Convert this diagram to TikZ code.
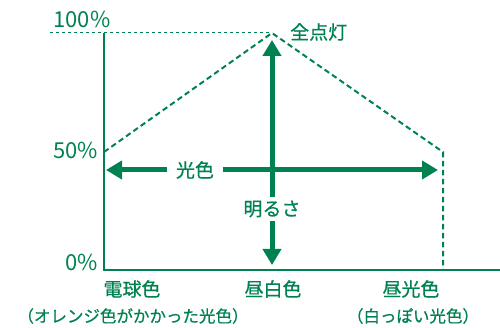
\documentclass[tikz,border=0pt]{standalone}
\usepackage{fontspec}
\setmainfont{Noto Sans CJK JP}
\newfontfamily\jpmed[FakeBold=0.7]{Noto Sans CJK JP}
\usetikzlibrary{arrows.meta,positioning}
\definecolor{lampgreen}{RGB}{0,130,80}

\begin{document}
\begin{tikzpicture}[x=1pt,y=-1pt, font=\fontsize{19}{21}\selectfont\jpmed, every node/.append style={text=lampgreen},
  axis/.style={draw=lampgreen,line width=2pt},
  guide/.style={draw=lampgreen,line width=2pt,dash pattern=on 5.5pt off 3.5pt},
  thinguide/.style={draw=lampgreen,line width=1pt,dash pattern=on 3pt off 3pt},
  ar/.style={-{Triangle[length=16pt,width=18pt]},draw=lampgreen,fill=lampgreen,line width=5pt},
  pct/.style={font=\fontsize{22}{24}\selectfont\rmfamily,inner sep=0pt},
  lbl/.style={inner xsep=9pt,inner ysep=3pt},
  sub/.style={font=\fontsize{16.5}{18}\selectfont\jpmed,inner sep=0pt}]
 \useasboundingbox (0,0) rectangle (500,328);
 % axes and the brightness envelope
 \coordinate (o) at (104,270); \coordinate (ytop) at (104,33); \coordinate (xend) at (500,270);
 \coordinate (peak) at (272,33); \coordinate (top0) at (50,33);
 \coordinate (lhalf) at (104,152); \coordinate (rhalf) at (443,152); \coordinate (rfoot) at (443,270);
 \draw[axis] (ytop) -- (o) -- (xend);
 \draw[thinguide] (top0) -- (peak);
 \draw[guide] (lhalf) -- (peak) -- (rhalf) -- (rfoot);
 % tick labels
 \node[pct] (p100) at (82,19) {100\%};
 \node[pct, anchor=east] (p50) at (98,150) {50\%};
 \node[pct, anchor=east] (p0) at (98,262) {0\%};
 \node[anchor=west, inner sep=0pt] (full) at (290,32) {全点灯};
 % arrows
 \coordinate (hl) at (106,170); \coordinate (hr) at (438,170);
 \coordinate (vt) at (272,40); \coordinate (vb) at (272,265);
 \node[lbl] (color) at (195,170) {光色};
 \node[lbl] (bright) at (272,209) {明るさ};
 \draw[ar] (color) -- (hl); \draw[ar] (color) -- (hr);
 \draw[ar] (bright) -- (vt); \draw[ar] (bright) -- (vb);
 % colour names
 \node[inner sep=0pt] (bulb) at (132,289) {電球色};
 \node[inner sep=0pt] (white) at (273,289) {昼白色};
 \node[inner sep=0pt] (day) at (411,289) {昼光色};
 \node[sub] (bulbsub) at (133,316) {（オレンジ色がかかった光色）};
 \node[sub] (daysub) at (413,316) {（白っぽい光色）};
\end{tikzpicture}
\end{document}
